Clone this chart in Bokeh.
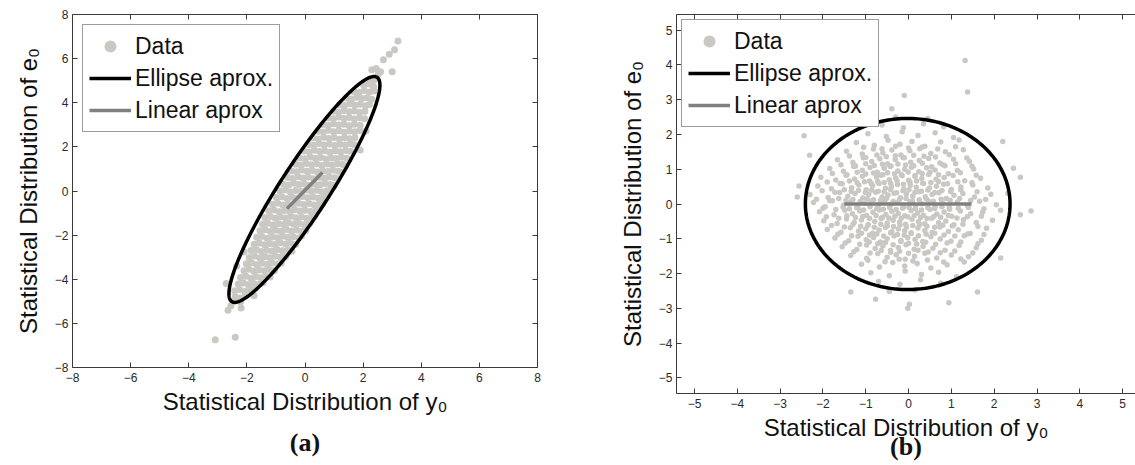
import numpy as np
from bokeh.plotting import figure
from bokeh.models import (LinearAxis, FixedTicker, Range1d, Legend, LegendItem,
                          Title, CustomJSTickFormatter)
from bokeh.layouts import row
from bokeh.embed import file_html
from bokeh.resources import INLINE

# ---------------- data: panel (a) ----------------
a_x = [
    -2.38, -2.22,
    -2.40, -2.22, -2.05,
    -2.42, -2.25, -2.06, -1.88, -1.72,
    -2.30, -2.12, -1.95, -1.78, -1.60, -1.44,
    -2.22, -2.04, -1.86, -1.69, -1.51, -1.34, -1.20,
    -2.10, -1.93, -1.76, -1.58, -1.40, -1.22, -1.05,
    -2.02, -1.84, -1.66, -1.48, -1.30, -1.12, -0.94, -0.82,
    -1.92, -1.74, -1.56, -1.38, -1.20, -1.02, -0.84, -0.66,
    -1.86, -1.68, -1.50, -1.32, -1.14, -0.96, -0.78, -0.58, -0.45,
    -1.75, -1.57, -1.39, -1.21, -1.03, -0.85, -0.67, -0.49, -0.32,
    -1.66, -1.48, -1.30, -1.12, -0.94, -0.76, -0.58, -0.40, -0.22, -0.12,
    -1.55, -1.37, -1.19, -1.01, -0.83, -0.65, -0.47, -0.29, -0.11, 0.03,
    -1.46, -1.28, -1.10, -0.92, -0.74, -0.56, -0.38, -0.20, -0.02, 0.15,
    -1.38, -1.20, -1.02, -0.84, -0.66, -0.48, -0.30, -0.12, 0.06, 0.24, 0.33,
    -1.25, -1.07, -0.89, -0.71, -0.53, -0.35, -0.17, 0.01, 0.19, 0.37, 0.48,
    -1.12, -0.94, -0.76, -0.58, -0.40, -0.22, -0.04, 0.14, 0.32, 0.50, 0.62,
    -0.98, -0.80, -0.62, -0.44, -0.26, -0.08, 0.10, 0.28, 0.46, 0.64, 0.76,
    -0.86, -0.68, -0.50, -0.32, -0.14, 0.04, 0.22, 0.40, 0.58, 0.76, 0.88,
    -0.74, -0.56, -0.38, -0.20, -0.02, 0.16, 0.34, 0.52, 0.70, 0.88, 1.00,
    -0.60, -0.42, -0.24, -0.06, 0.12, 0.30, 0.48, 0.66, 0.84, 1.02, 1.13,
    -0.47, -0.29, -0.11, 0.07, 0.25, 0.43, 0.61, 0.79, 0.97, 1.15, 1.26,
    -0.32, -0.14, 0.04, 0.22, 0.40, 0.58, 0.76, 0.94, 1.12, 1.30, 1.40,
    -0.18, 0.00, 0.18, 0.36, 0.54, 0.72, 0.90, 1.08, 1.26, 1.44,
    -0.04, 0.14, 0.32, 0.50, 0.68, 0.86, 1.04, 1.22, 1.40, 1.56,
    0.12, 0.30, 0.48, 0.66, 0.84, 1.02, 1.20, 1.38, 1.56, 1.70,
    0.28, 0.46, 0.64, 0.82, 1.00, 1.18, 1.36, 1.54, 1.72,
    0.45, 0.63, 0.81, 0.99, 1.17, 1.35, 1.53, 1.71, 1.88,
    0.62, 0.80, 0.98, 1.16, 1.34, 1.52, 1.70, 1.90,
    0.80, 0.98, 1.16, 1.34, 1.52, 1.70, 1.88, 2.05,
    0.98, 1.16, 1.34, 1.52, 1.70, 1.88, 2.06,
    1.18, 1.36, 1.54, 1.72, 1.90, 2.08, 2.22,
    1.42, 1.60, 1.78, 1.96, 2.14, 2.30,
    1.68, 1.86, 2.04, 2.22, 2.38,
    2.02, 2.20, 2.36,
    2.24, 2.38,
    2.30, 2.45, 2.60, 2.70, 2.90, 3.08, 3.20, 3.00, 2.52,
    -2.71, -2.65, -3.09, -2.40, -2.55, -2.20, -1.75, 2.10, 1.90, -2.35, -2.10,
]
a_y = [
    -4.98, -5.03,
    -4.78, -4.85, -4.72,
    -4.52, -4.46, -4.55, -4.48, -4.43,
    -4.22, -4.17, -4.25, -4.19, -4.23, -4.16,
    -3.92, -3.86, -3.95, -3.88, -3.93, -3.87, -3.90,
    -3.61, -3.55, -3.64, -3.58, -3.62, -3.56, -3.60,
    -3.30, -3.25, -3.34, -3.28, -3.32, -3.26, -3.31, -3.27,
    -3.01, -2.95, -3.04, -2.98, -3.03, -2.96, -3.00, -2.97,
    -2.70, -2.66, -2.74, -2.68, -2.72, -2.65, -2.71, -2.67, -2.73,
    -2.41, -2.36, -2.44, -2.38, -2.42, -2.35, -2.40, -2.37, -2.43,
    -2.10, -2.06, -2.14, -2.08, -2.12, -2.05, -2.11, -2.07, -2.13, -2.04,
    -1.80, -1.76, -1.84, -1.78, -1.82, -1.75, -1.81, -1.77, -1.83, -1.79,
    -1.51, -1.46, -1.54, -1.48, -1.52, -1.45, -1.50, -1.47, -1.53, -1.49,
    -1.20, -1.16, -1.24, -1.18, -1.22, -1.15, -1.21, -1.17, -1.23, -1.19, -1.14,
    -0.90, -0.86, -0.94, -0.88, -0.92, -0.85, -0.91, -0.87, -0.93, -0.89, -0.84,
    -0.60, -0.56, -0.64, -0.58, -0.62, -0.55, -0.61, -0.57, -0.63, -0.59, -0.54,
    -0.30, -0.26, -0.34, -0.28, -0.32, -0.25, -0.31, -0.27, -0.33, -0.29, -0.24,
    0.00, 0.04, -0.04, 0.02, -0.02, 0.05, -0.01, 0.03, -0.03, 0.01, 0.06,
    0.31, 0.27, 0.35, 0.29, 0.33, 0.26, 0.32, 0.28, 0.34, 0.30, 0.25,
    0.61, 0.57, 0.65, 0.59, 0.63, 0.56, 0.62, 0.58, 0.64, 0.60, 0.55,
    0.91, 0.87, 0.95, 0.89, 0.93, 0.86, 0.92, 0.88, 0.94, 0.90, 0.85,
    1.21, 1.17, 1.25, 1.19, 1.23, 1.16, 1.22, 1.18, 1.24, 1.20, 1.15,
    1.50, 1.46, 1.54, 1.48, 1.52, 1.45, 1.51, 1.47, 1.53, 1.49,
    1.81, 1.77, 1.85, 1.79, 1.83, 1.76, 1.82, 1.78, 1.84, 1.80,
    2.11, 2.07, 2.15, 2.09, 2.13, 2.06, 2.12, 2.08, 2.14, 2.10,
    2.40, 2.36, 2.44, 2.38, 2.42, 2.35, 2.41, 2.37, 2.43,
    2.71, 2.67, 2.75, 2.69, 2.73, 2.66, 2.72, 2.68, 2.74,
    3.01, 2.97, 3.05, 2.99, 3.03, 2.96, 3.02, 2.98,
    3.31, 3.27, 3.35, 3.29, 3.33, 3.26, 3.32, 3.28,
    3.61, 3.57, 3.65, 3.59, 3.63, 3.56, 3.62,
    3.91, 3.87, 3.95, 3.89, 3.93, 3.86, 3.92,
    4.21, 4.17, 4.25, 4.19, 4.23, 4.16,
    4.51, 4.47, 4.55, 4.49, 4.53,
    4.79, 4.85, 4.74,
    5.00, 5.04,
    5.50, 5.55, 5.40, 5.95, 6.20, 6.40, 6.80, 5.40, 5.30,
    -4.19, -5.41, -6.74, -6.63, -5.20, -5.30, -4.75, 2.72, 1.86, -3.40, -2.76,
]

# ---------------- data: panel (b) ----------------
b_x = [
    -2.22, -1.95, -1.78, -1.52, -1.36, -1.18, -1.02, -0.88, -0.71, -0.55, -0.41, -0.27,
    -0.12, 0.03, 0.17, 0.31, 0.46, 0.62, 0.79, 0.95, 1.14, 1.38, 1.66, 2.05,
    -2.15, -1.84, -1.63, -1.46, -1.30, -1.13, -0.97, -0.82, -0.66, -0.51, -0.36, -0.21,
    -0.06, 0.09, 0.25, 0.41, 0.58, 0.76, 0.97, 1.19, 1.45, 1.80,
    -2.00, -1.70, -1.53, -1.38, -1.21, -1.05, -0.90, -0.74, -0.59, -0.44, -0.29, -0.14,
    0.01, 0.16, 0.30, 0.45, 0.61, 0.78, 0.96, 1.16, 1.40, 1.76,
    -2.30, -1.88, -1.61, -1.42, -1.25, -1.07, -0.93, -0.77, -0.62, -0.48, -0.34, -0.19,
    -0.05, 0.10, 0.24, 0.39, 0.55, 0.71, 0.88, 1.06, 1.27, 1.54, 1.92,
    -2.08, -1.74, -1.49, -1.31, -1.14, -0.98, -0.83, -0.68, -0.53, -0.39, -0.24, -0.09,
    0.06, 0.21, 0.35, 0.50, 0.66, 0.83, 1.01, 1.21, 1.45, 1.73, 2.15,
    -2.02, -1.72, -1.50, -1.34, -1.17, -1.01, -0.86, -0.71, -0.57, -0.42, -0.28,
    -0.13, 0.01, 0.15, 0.30, 0.45, 0.61, 0.78, 0.98, 1.22, 1.60,
    -1.92, -1.63, -1.44, -1.24, -1.07, -0.91, -0.76, -0.61, -0.46, -0.32, -0.17,
    -0.02, 0.13, 0.28, 0.43, 0.59, 0.75, 0.93, 1.13, 1.37, 1.70,
    -2.12, -1.80, -1.55, -1.33, -1.16, -0.99, -0.84, -0.69, -0.54, -0.40, -0.26, -0.11,
    0.04, 0.18, 0.33, 0.49, 0.65, 0.82, 1.00, 1.22, 1.50, 1.85,
    -1.98, -1.67, -1.45, -1.27, -1.10, -0.94, -0.79, -0.64, -0.50, -0.36, -0.21, -0.07,
    0.08, 0.23, 0.38, 0.54, 0.70, 0.87, 1.06, 1.28, 1.58, 1.96,
    -1.90, -1.60, -1.38, -1.20, -1.03, -0.87, -0.72, -0.57, -0.42, -0.27,
    -0.12, 0.03, 0.19, 0.35, 0.52, 0.70, 0.91, 1.15, 1.48,
    -1.80, -1.50, -1.30, -1.12, -0.95, -0.80, -0.65, -0.50, -0.35, -0.20,
    -0.05, 0.10, 0.26, 0.43, 0.61, 0.80, 1.02, 1.27, 1.62,
    -2.05, -1.70, -1.46, -1.26, -1.08, -0.91, -0.75, -0.60, -0.45, -0.30,
    -0.15, 0.00, 0.15, 0.31, 0.47, 0.64, 0.83, 1.04, 1.31, 1.68,
    -1.90, -1.58, -1.36, -1.17, -1.00, -0.84, -0.69, -0.54, -0.39, -0.24,
    -0.09, 0.06, 0.22, 0.38, 0.55, 0.73, 0.93, 1.16, 1.44, 1.82,
    -1.78, -1.44, -1.20, -1.00, -0.82, -0.65, -0.49, -0.33, -0.17, -0.01, 0.15, 0.32,
    0.50, 0.70, 0.93, 1.21, 1.58,
    -1.65, -1.33, -1.10, -0.91, -0.74, -0.58, -0.42, -0.26, -0.10, 0.06, 0.23, 0.41,
    0.61, 0.83, 1.08, 1.38, 1.76,
    -1.84, -1.52, -1.28, -1.08, -0.90, -0.73, -0.57, -0.41, -0.25, -0.09, 0.07, 0.24,
    0.42, 0.62, 0.85, 1.14, 1.52,
    -1.72, -1.40, -1.18, -0.99, -0.82, -0.66, -0.50, -0.34, -0.18, -0.02, 0.15, 0.33,
    0.52, 0.74, 0.99, 1.30, 1.70,
    -1.58, -1.24, -1.00, -0.80, -0.61, -0.43, -0.25, -0.07, 0.12, 0.32, 0.54, 0.80, 1.10, 1.48,
    -1.48, -1.14, -0.92, -0.72, -0.54, -0.36, -0.18, 0.00, 0.19, 0.40, 0.63, 0.90, 1.22, 1.62,
    -1.66, -1.30, -1.06, -0.86, -0.67, -0.49, -0.31, -0.13, 0.05, 0.25, 0.47, 0.73, 1.05, 1.42,
    -1.55, -1.21, -0.98, -0.78, -0.60, -0.42, -0.24, -0.06, 0.13, 0.34, 0.57, 0.85, 1.18, 1.58,
    -1.38, -1.00, -0.74, -0.52, -0.31, -0.10, 0.12, 0.36, 0.63, 0.95, 1.36,
    -1.28, -0.90, -0.64, -0.42, -0.21, 0.00, 0.22, 0.46, 0.74, 1.08, 1.50,
    -1.45, -1.08, -0.82, -0.60, -0.39, -0.18, 0.03, 0.26, 0.52, 0.86, 1.28,
    -1.35, -0.98, -0.72, -0.50, -0.29, -0.08, 0.14, 0.38, 0.66, 1.00, 1.40,
    -1.05, -0.62, -0.30, 0.00, 0.32, 0.68, 1.10,
    -0.95, -0.55, -0.22, 0.10, 0.44, 0.82, 1.22,
    -1.22, -0.80, -0.48, -0.20, 0.08, 0.38, 0.75, 1.18,
    -1.10, -0.68, -0.37, -0.09, 0.20, 0.52, 0.90, 1.30,
    -0.95, -0.52, -0.15, 0.22, 0.62, 1.05,
    -0.88, -0.45, -0.08, 0.30, 0.70, 1.12,
    -0.62, -0.12, 0.35, 0.82,
    -0.70, -0.20, 0.28, 0.75,
    -0.30, 0.45,
    -0.45, 0.15,
    2.61, 2.61, 2.86, 2.45, 2.20, 2.15, 1.61, 0.94, -0.02, 0.02, -0.77, -1.35,
    -2.56, -2.44, -2.31, -1.52, -0.39, -0.10, 1.32, 1.38, 2.32, -2.60,
]
b_y = [
    0.04, -0.08, 0.09, -0.03, 0.06, -0.10, 0.02, 0.08, -0.06, 0.10, -0.02, 0.05,
    -0.09, 0.07, -0.04, 0.01, 0.09, -0.07, 0.03, -0.10, 0.06, -0.05, 0.08, -0.02,
    0.14, 0.09, 0.16, 0.11, 0.13, 0.08, 0.15, 0.12, 0.10, 0.17, 0.07, 0.13,
    0.16, 0.09, 0.12, 0.15, 0.08, 0.14, 0.11, 0.16, 0.10, 0.13,
    -0.12, -0.16, -0.09, -0.14, -0.11, -0.17, -0.08, -0.13, -0.15, -0.10, -0.16, -0.12,
    -0.09, -0.14, -0.17, -0.11, -0.13, -0.08, -0.15, -0.12, -0.10, -0.14,
    0.27, 0.19, 0.33, 0.22, 0.30, 0.17, 0.28, 0.34, 0.20, 0.26, 0.31, 0.18,
    0.29, 0.23, 0.35, 0.21, 0.27, 0.32, 0.16, 0.25, 0.30, 0.20, 0.28,
    -0.22, -0.31, -0.18, -0.28, -0.20, -0.33, -0.24, -0.17, -0.30, -0.21, -0.27, -0.34,
    -0.19, -0.26, -0.32, -0.16, -0.29, -0.23, -0.35, -0.20, -0.28, -0.24, -0.18,
    0.38, 0.34, 0.41, 0.36, 0.39, 0.33, 0.40, 0.37, 0.35, 0.42, 0.32,
    0.38, 0.41, 0.34, 0.37, 0.40, 0.33, 0.39, 0.36, 0.41, 0.35,
    -0.37, -0.41, -0.34, -0.39, -0.36, -0.42, -0.33, -0.38, -0.40, -0.35, -0.41,
    -0.37, -0.34, -0.39, -0.42, -0.36, -0.38, -0.33, -0.40, -0.37, -0.35,
    0.52, 0.44, 0.58, 0.47, 0.55, 0.41, 0.53, 0.59, 0.45, 0.50, 0.56, 0.43,
    0.54, 0.48, 0.60, 0.46, 0.51, 0.57, 0.42, 0.49, 0.55, 0.46,
    -0.48, -0.56, -0.43, -0.53, -0.46, -0.59, -0.50, -0.42, -0.55, -0.47, -0.52, -0.58,
    -0.44, -0.51, -0.57, -0.41, -0.54, -0.49, -0.60, -0.45, -0.53, -0.47,
    0.63, 0.59, 0.66, 0.61, 0.64, 0.58, 0.65, 0.62, 0.60, 0.67,
    0.57, 0.63, 0.66, 0.59, 0.62, 0.65, 0.58, 0.64, 0.61,
    -0.62, -0.66, -0.59, -0.64, -0.61, -0.67, -0.58, -0.63, -0.65, -0.60,
    -0.66, -0.62, -0.59, -0.64, -0.67, -0.61, -0.63, -0.58, -0.65,
    0.77, 0.69, 0.83, 0.72, 0.80, 0.66, 0.78, 0.84, 0.70, 0.75,
    0.81, 0.68, 0.79, 0.73, 0.85, 0.71, 0.76, 0.82, 0.67, 0.74,
    -0.73, -0.81, -0.68, -0.78, -0.71, -0.84, -0.75, -0.67, -0.80, -0.72,
    -0.77, -0.83, -0.69, -0.76, -0.82, -0.66, -0.79, -0.74, -0.85, -0.70,
    0.88, 0.84, 0.91, 0.86, 0.89, 0.83, 0.90, 0.87, 0.85, 0.92, 0.82, 0.88,
    0.91, 0.84, 0.87, 0.90, 0.83,
    -0.87, -0.91, -0.84, -0.89, -0.86, -0.92, -0.83, -0.88, -0.90, -0.85, -0.91, -0.87,
    -0.84, -0.89, -0.92, -0.86, -0.88,
    1.02, 0.94, 1.08, 0.97, 1.05, 0.91, 1.03, 1.09, 0.95, 1.00, 1.06, 0.93,
    1.04, 0.98, 1.10, 0.96, 1.01,
    -0.98, -1.06, -0.93, -1.03, -0.96, -1.09, -1.00, -0.92, -1.05, -0.97, -1.02, -1.08,
    -0.94, -1.01, -1.07, -0.91, -1.04,
    1.13, 1.09, 1.16, 1.11, 1.14, 1.08, 1.15, 1.12, 1.10, 1.17, 1.07, 1.13, 1.16, 1.09,
    -1.12, -1.16, -1.09, -1.14, -1.11, -1.17, -1.08, -1.13, -1.15, -1.10, -1.16, -1.12, -1.09, -1.14,
    1.27, 1.19, 1.33, 1.22, 1.30, 1.16, 1.28, 1.34, 1.20, 1.25, 1.31, 1.18, 1.29, 1.23,
    -1.23, -1.31, -1.18, -1.28, -1.21, -1.34, -1.25, -1.17, -1.30, -1.22, -1.27, -1.33, -1.19, -1.26,
    1.38, 1.34, 1.41, 1.36, 1.39, 1.33, 1.40, 1.37, 1.35, 1.42, 1.32,
    -1.37, -1.41, -1.34, -1.39, -1.36, -1.42, -1.33, -1.38, -1.40, -1.35, -1.41,
    1.52, 1.44, 1.58, 1.47, 1.55, 1.41, 1.53, 1.59, 1.45, 1.50, 1.56,
    -1.48, -1.56, -1.43, -1.53, -1.46, -1.59, -1.50, -1.42, -1.55, -1.47, -1.52,
    1.63, 1.59, 1.66, 1.61, 1.64, 1.58, 1.65,
    -1.62, -1.66, -1.59, -1.64, -1.61, -1.67, -1.58,
    1.77, 1.69, 1.83, 1.72, 1.80, 1.66, 1.78, 1.84,
    -1.73, -1.81, -1.68, -1.78, -1.71, -1.84, -1.75, -1.67,
    2.02, 1.94, 2.08, 1.97, 2.05, 1.91,
    -1.98, -2.06, -1.93, -2.03, -1.96, -2.09,
    2.27, 2.19, 2.31, 2.22,
    -2.23, -2.31, -2.18, -2.28,
    2.50, 2.46,
    -2.52, -2.47,
    0.77, -0.31, -0.20, 1.03, 1.80, -1.55, -2.53, -2.84, -3.00, -2.88, -2.74, -2.53,
    0.52, 1.96, 1.40, 2.38, 2.74, 3.12, 4.13, 3.22, 0.31, 0.20,
]

# ticks
a_ticks = [-8, -6, -4, -2, 0, 2, 4, 6, 8]
b_ticks = [-5, -4, -3, -2, -1, 0, 1, 2, 3, 4, 5]

# fitted ellipse parameters (centre, semi-axes, tilt in degrees)
a_ell_center = (-0.02, 0.07)
a_ell_semi = (5.67, 0.90)
a_ell_angle = 64.2
b_ell_center = (-0.02, 0.0)
b_ell_semi = (2.39, 2.46)
b_ell_angle = 0.0

# linear approximation segments
a_lin_x = [-0.62, 0.60]
a_lin_y = [-0.80, 0.84]
b_lin_x = [-1.50, 1.47]
b_lin_y = [0.0, 0.0]

labels = ["Data", "Ellipse aprox.", "Linear aprox"]
captions = ["(a)", "(b)"]
x_title = "Statistical Distribution of y\u2080"
y_title = "Statistical Distribution of e\u2080"

PT_COLOR = "#cac8c2"
AX_COLOR = "#3a3a3a"
FONT = "Liberation Sans"


def ellipse_outline(center, semi, angle_deg, n=240):
    t = np.linspace(0, 2 * np.pi, n)
    th = np.deg2rad(angle_deg)
    a, b = semi
    x = center[0] + a * np.cos(th) * np.cos(t) - b * np.sin(th) * np.sin(t)
    y = center[1] + a * np.sin(th) * np.cos(t) + b * np.cos(th) * np.sin(t)
    return x, y


def style_axis(ax, ticks, show_labels=True):
    ax.ticker = FixedTicker(ticks=ticks)
    ax.axis_line_color = AX_COLOR
    ax.axis_line_width = 1
    ax.major_tick_line_color = AX_COLOR
    ax.major_tick_in = 5
    ax.major_tick_out = 0
    ax.minor_tick_line_color = None
    ax.major_label_text_font = FONT
    ax.major_label_text_color = "#2a2a2a"
    if show_labels:
        ax.major_label_text_font_size = "12px"
    else:
        ax.major_label_text_font_size = "0px"
        ax.major_label_standoff = 0
        ax.formatter = CustomJSTickFormatter(code="return ''")
    ax.axis_label_text_font = FONT
    ax.axis_label_text_font_size = "24px"
    ax.axis_label_text_font_style = "normal"
    ax.axis_label_text_color = "#111111"


def make_panel(px, py, ell, lin, xr, yr, ticks, width, borders, legend_margin,
               pt_size, right_axis, caption, cap_standoff):
    bl, br, bt, bb = borders
    p = figure(width=width, height=465, x_range=Range1d(*xr), y_range=Range1d(*yr),
               output_backend="svg", toolbar_location=None,
               min_border_left=bl, min_border_right=br, min_border_top=bt,
               min_border_bottom=bb, frame_align=False)
    p.background_fill_color = "white"
    p.border_fill_color = "white"
    p.outline_line_color = None
    p.grid.visible = False

    style_axis(p.xaxis[0], ticks)
    style_axis(p.yaxis[0], ticks)
    p.xaxis[0].axis_label = x_title
    p.yaxis[0].axis_label = y_title
    p.xaxis[0].major_label_standoff = 5
    p.xaxis[0].axis_label_standoff = 3
    p.yaxis[0].major_label_standoff = 4
    p.yaxis[0].axis_label_standoff = 10

    top = LinearAxis()
    style_axis(top, ticks, show_labels=False)
    p.add_layout(top, "above")
    if right_axis:
        rgt = LinearAxis()
        style_axis(rgt, ticks, show_labels=False)
        p.add_layout(rgt, "right")

    r_pts = p.scatter(px, py, size=pt_size, marker="circle", fill_color=PT_COLOR,
                      line_color=None)
    ex, ey = ellipse_outline(*ell)
    r_ell = p.line(ex, ey, line_color="black", line_width=3.5, line_join="round")
    r_lin = p.line(lin[0], lin[1], line_color="#808080", line_width=3.5)

    legend = Legend(items=[LegendItem(label=labels[0], renderers=[r_pts]),
                           LegendItem(label=labels[1], renderers=[r_ell]),
                           LegendItem(label=labels[2], renderers=[r_lin])],
                    location="top_left")
    legend.margin = legend_margin
    legend.padding = 6
    legend.spacing = 2
    legend.glyph_width = 42
    legend.glyph_height = 30
    legend.label_height = 30
    legend.label_standoff = 4
    legend.label_text_font = FONT
    legend.label_text_font_size = "23px"
    legend.label_text_color = "#111111"
    legend.border_line_color = AX_COLOR
    legend.border_line_width = 1
    legend.background_fill_color = "white"
    legend.background_fill_alpha = 1.0
    p.add_layout(legend)

    p.add_layout(Title(text=caption, align="center", text_font="Liberation Serif",
                       text_font_style="bold", text_font_size="26px",
                       text_color="#111111", standoff=cap_standoff), "below")
    return p


p1 = make_panel(a_x, a_y, (a_ell_center, a_ell_semi, a_ell_angle), (a_lin_x, a_lin_y),
                (-8, 8), (-8, 8), a_ticks, 575, (72, 38, 14, 98), 10, 7, True,
                captions[0], 16)
p2 = make_panel(b_x, b_y, (b_ell_center, b_ell_semi, b_ell_angle), (b_lin_x, b_lin_y),
                (-5.42, 5.30), (-5.45, 5.45), b_ticks, 560, (101, 0, 14, 72), 5, 5.5, False,
                captions[1], -28)

layout = row(p1, p2)
open("out.html", "w").write(file_html(layout, INLINE))
